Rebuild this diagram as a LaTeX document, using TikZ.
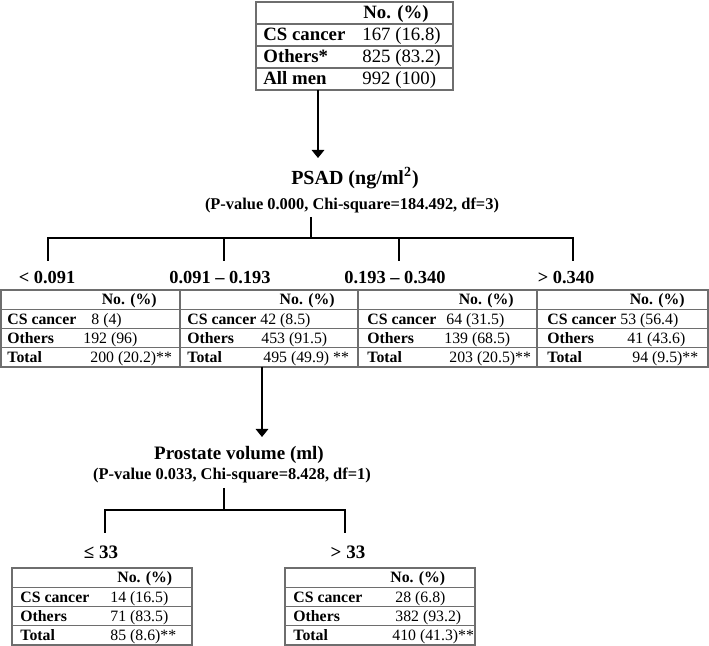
\documentclass[tikz,border=0pt]{standalone}
\usepackage{fontspec}
\setmainfont{Liberation Serif}
\usepackage{tikz}
\usetikzlibrary{arrows.meta}
\definecolor{gridgray}{RGB}{110,110,110}
\tikzset{
  tabrow/.style={draw=gridgray,line width=0.6pt,inner sep=0pt,minimum height=9.625pt},
  toprow/.style={tabrow,minimum width=98.5pt,minimum height=11pt},
  lab/.style={anchor=base west,inner sep=0pt,font=\fontsize{7.9}{9}\selectfont\bfseries},
  num/.style={anchor=base west,inner sep=0pt,font=\fontsize{7.9}{9}\selectfont},
  toplab/.style={lab,font=\fontsize{9.4}{11}\selectfont\bfseries},
  topnum/.style={num,font=\fontsize{9.4}{11}\selectfont},
  splitname/.style={inner sep=0pt,font=\fontsize{10}{12}\selectfont\bfseries},
  splitstat/.style={inner sep=0pt,font=\fontsize{8.2}{10}\selectfont\bfseries},
  cutlab/.style={inner sep=0pt,font=\fontsize{9.2}{11}\selectfont\bfseries},
  arr/.style={-{Triangle[length=4pt,width=6.3pt]},draw=black,line width=0.6pt},
  tree/.style={draw=black,line width=0.6pt}
}
\begin{document}
\begin{tikzpicture}[x=0.5pt,y=-0.5pt]
\useasboundingbox (0,0) rectangle (709,646);
% top table
\foreach \rw/\y in {0/13,1/35,2/57,3/79}
  \node[toprow] (top\rw) at (354.5,\y) {};
\node[toplab] (toph) at (363,19) {No. (\%)};
\node[toplab] (topcs) at (263,41) {CS cancer};
\node[topnum] (topcsv) at (362,41) {167 (16.8)};
\node[toplab] (topot) at (263,63) {Others*};
\node[topnum] (topotv) at (362,63) {825 (83.2)};
\node[toplab] (topall) at (263,85) {All men};
\node[topnum] (topallv) at (362,85) {992 (100)};
\coordinate (a0) at (318,90);
\coordinate (a1) at (318,158);
\draw[arr] (a0) -- (a1);
% PSAD split
\node[splitname] (psad) at (355,178) {PSAD (ng/ml\textsuperscript{2})};
\node[splitstat] (psadsub) at (352,205) {(P-value 0.000, Chi-square=184.492, df=3)};
\coordinate (s0) at (311,217);
\coordinate (bar) at (311,238);
\foreach \b/\x in {1/48,2/224,3/399,4/573}
  \coordinate (b\b) at (\x,261);
\draw[tree] (s0) -- (bar);
\draw[tree] (b1) |- (bar) -| (b4);
\draw[tree] (b2) -- (b2 |- bar);
\draw[tree] (b3) -- (b3 |- bar);
\node[cutlab] (r1) at (47,278) {< 0.091};
\node[cutlab] (r2) at (220,278) {0.091 -- 0.193};
\node[cutlab] (r3) at (395,278) {0.193 -- 0.340};
\node[cutlab] (r4) at (566,278) {> 0.340};
% four tables
\foreach \tb/\xl/\xr/\lx/\va/\vb/\vc/\pa/\pb/\pc in {
  1/1/180/7/{8 (4)}/{192 (96)}/{200 (20.2)**}/91/83/90,
  2/180/358/187/{42 (8.5)}/{453 (91.5)}/{495 (49.9) **}/260/261/263,
  3/358/537/367/{64 (31.5)}/{139 (68.5)}/{203 (20.5)**}/446/444/449,
  4/537/708/547/{53 (56.4)}/{41 (43.6)}/{94 (9.5)**}/620/627/632}{
  \foreach \rw/\y in {0/299.6,1/318.9,2/338.1,3/357.4}
    \node[tabrow,minimum width=(\xr-\xl)*0.5pt] (t\tb r\rw) at ({(\xl+\xr)/2},\y) {};
  \node[lab,anchor=base east] (t\tb h) at (\xr-23,304.8) {No. (\%)};
  \node[lab] (t\tb cs) at (\lx,324.1) {CS cancer};
  \node[num] (t\tb csv) at (\pa,324.1) {\va};
  \node[lab] (t\tb ot) at (\lx,343.3) {Others};
  \node[num] (t\tb otv) at (\pb,343.3) {\vb};
  \node[lab] (t\tb tot) at (\lx,362.6) {Total};
  \node[num] (t\tb totv) at (\pc,362.6) {\vc};
}
\coordinate (a2) at (262,367);
\coordinate (a3) at (262,437);
\draw[arr] (a2) -- (a3);
% prostate volume split
\node[splitname,font=\fontsize{9.5}{11}\selectfont\bfseries] (pv) at (239,455) {Prostate volume (ml)};
\node[splitstat] (pvsub) at (232,475) {(P-value 0.033, Chi-square=8.428, df=1)};
\coordinate (s1) at (224,488);
\coordinate (bar2) at (224,510);
\coordinate (c1) at (105,533);
\coordinate (c2) at (345,533);
\draw[tree] (s1) -- (bar2);
\draw[tree] (c1) |- (bar2) -| (c2);
\node[cutlab,font=\fontsize{9.5}{11}\selectfont\bfseries] (q1) at (101,552) {≤ 33};
\node[cutlab,font=\fontsize{9.5}{11}\selectfont\bfseries] (q2) at (348,552) {> 33};
% bottom tables
\foreach \tb/\xl/\xr/\hx/\va/\vb/\vc/\pa/\pb/\pc in {
  5/12/192/117/{14 (16.5)}/{71 (83.5)}/{85 (8.6)**}/110/110/110,
  6/285/475/390/{28 (6.8)}/{382 (93.2)}/{410 (41.3)**}/395/395/392}{
  \foreach \rw/\y in {0/577.6,1/596.9,2/616.1,3/635.4}
    \node[tabrow,minimum width=(\xr-\xl)*0.5pt] (t\tb r\rw) at ({(\xl+\xr)/2},\y) {};
  \node[lab] (t\tb h) at (\hx,582.8) {No. (\%)};
  \node[lab] (t\tb cs) at (\xl+8,602.1) {CS cancer};
  \node[num] (t\tb csv) at (\pa,602.1) {\va};
  \node[lab] (t\tb ot) at (\xl+8,621.3) {Others};
  \node[num] (t\tb otv) at (\pb,621.3) {\vb};
  \node[lab] (t\tb tot) at (\xl+8,640.6) {Total};
  \node[num] (t\tb totv) at (\pc,640.6) {\vc};
}
\end{tikzpicture}
\end{document}
